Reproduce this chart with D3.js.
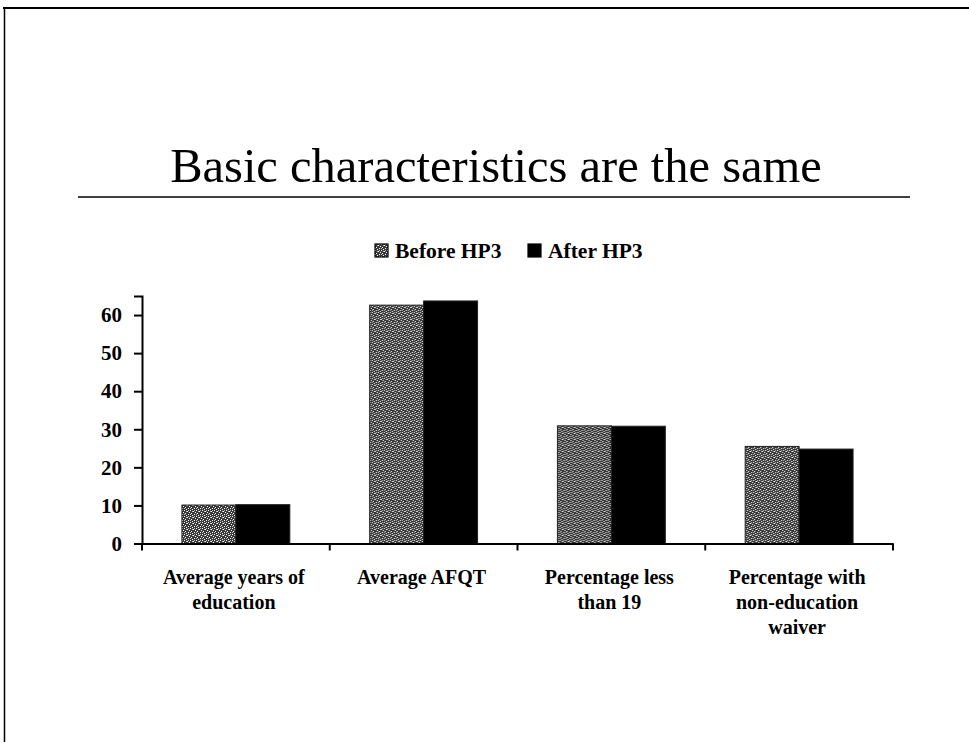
<!DOCTYPE html>
<html>
<head>
<meta charset="utf-8">
<script src="https://cdn.jsdelivr.net/npm/d3@7"></script>
<style>
  body { margin: 0; background: #fff; }
  text { font-family: "Liberation Serif", "Times New Roman", serif; fill: #000; }
</style>
</head>
<body>
<script>
(function(){

//chart data
var categories = [
  ["Average years of", "education"],
  ["Average AFQT"],
  ["Percentage less", "than 19"],
  ["Percentage with", "non-education", "waiver"]
];
var seriesNames = ["Before HP3", "After HP3"];
var beforeValues = [10.1, 62.6, 30.9, 25.5];
var afterValues = [10.2, 63.7, 30.8, 24.8];
var yTicks = [0, 10, 20, 30, 40, 50, 60];

window.onload = drawChart();

function drawChart(){
  var width = 969,
      height = 742;

  var svg = d3.select("body")
    .append("svg")
    .attr("width", width)
    .attr("height", height);

  //stippled fill for the "before" series
  var defs = svg.append("defs");
  var pat = defs.append("pattern")
    .attr("id", "stipple")
    .attr("patternUnits", "userSpaceOnUse")
    .attr("width", 6)
    .attr("height", 6);
  pat.append("rect").attr("width", 6).attr("height", 6).attr("fill", "#3a3a3a");
  [[0,0],[3,1],[1,3],[4,4],[5,2],[2,5]].forEach(function(p){
    pat.append("rect")
      .attr("x", p[0]).attr("y", p[1])
      .attr("width", 1).attr("height", 1)
      .attr("fill", "#fff");
  });
  [[2,1],[4,0],[0,4]].forEach(function(p){
    pat.append("rect")
      .attr("x", p[0]).attr("y", p[1])
      .attr("width", 1).attr("height", 1)
      .attr("fill", "#bbb");
  });

  //slide frame
  svg.append("line")
    .attr("x1", 3).attr("x2", width).attr("y1", 8).attr("y2", 8)
    .attr("stroke", "#000").attr("stroke-width", 2);
  svg.append("line")
    .attr("x1", 4.5).attr("x2", 4.5).attr("y1", 7).attr("y2", height)
    .attr("stroke", "#000").attr("stroke-width", 1.5);

  //title and rule
  svg.append("text")
    .attr("x", 496)
    .attr("y", 182)
    .attr("text-anchor", "middle")
    .style("font-size", "48.5px")
    .text("Basic characteristics are the same");

  svg.append("line")
    .attr("x1", 78).attr("x2", 910).attr("y1", 197).attr("y2", 197)
    .attr("stroke", "#000").attr("stroke-width", 1.5);

  //scales
  var x0 = d3.scaleBand()
    .domain(d3.range(categories.length))
    .range([142, 893]);

  var x1 = d3.scaleBand()
    .domain(seriesNames)
    .range([0, x0.bandwidth()])
    .paddingOuter(0.74);

  var y = d3.scaleLinear()
    .domain([0, 65])
    .range([543.5, 296]);

  var color = { "Before HP3": "url(#stipple)", "After HP3": "#000" };

  //bars
  var groups = svg.selectAll(".group")
    .data(categories)
    .enter()
    .append("g")
    .attr("class", "group")
    .attr("transform", function(d, i){ return "translate(" + x0(i) + ",0)"; });

  groups.selectAll("rect")
    .data(function(d, i){
      return [
        { key: seriesNames[0], value: beforeValues[i] },
        { key: seriesNames[1], value: afterValues[i] }
      ];
    })
    .enter()
    .append("rect")
    .attr("x", function(d){ return x1(d.key); })
    .attr("y", function(d){ return y(d.value); })
    .attr("width", x1.bandwidth())
    .attr("height", function(d){ return y(0) - y(d.value); })
    .attr("fill", function(d){ return color[d.key]; })
    .attr("stroke", "#222")
    .attr("stroke-width", 1);

  //y axis
  var yAxis = svg.append("g")
    .attr("transform", "translate(142,0)")
    .call(d3.axisLeft(y).tickValues(yTicks).tickSize(8).tickPadding(12).tickFormat(d3.format("d")));
  yAxis.select(".domain").attr("stroke-width", 2);
  yAxis.selectAll(".tick line").attr("stroke-width", 2);
  yAxis.selectAll(".tick text")
    .style("font-size", "21px")
    .style("font-weight", "bold")
    .style("font-family", "'Liberation Serif', serif");

  //x axis
  var xAxis = svg.append("g")
    .attr("transform", "translate(0," + y(0) + ")")
    .call(d3.axisBottom(x0).tickSize(0).tickFormat(""));
  xAxis.select(".domain").attr("stroke-width", 2);

  //category boundary ticks
  xAxis.selectAll(".sep")
    .data(d3.range(categories.length + 1))
    .enter()
    .append("line")
    .attr("class", "sep")
    .attr("x1", function(i){ return 142 + i * x0.step(); })
    .attr("x2", function(i){ return 142 + i * x0.step(); })
    .attr("y1", 0)
    .attr("y2", 7)
    .attr("stroke", "#000")
    .attr("stroke-width", 2);

  //category labels
  var labels = svg.selectAll(".catLabel")
    .data(categories)
    .enter()
    .append("text")
    .attr("class", "catLabel")
    .attr("text-anchor", "middle")
    .attr("y", 584)
    .style("font-size", "20px")
    .style("font-weight", "bold");

  labels.selectAll("tspan")
    .data(function(d, i){ return d.map(function(line){ return { line: line, i: i }; }); })
    .enter()
    .append("tspan")
    .attr("x", function(d){ return x0(d.i) + x0.bandwidth() / 2 - 2; })
    .attr("dy", function(d, j){ return j === 0 ? 0 : 25; })
    .text(function(d){ return d.line; });

  //legend
  var legendX = [375, 528];
  var legend = svg.selectAll(".legend")
    .data(seriesNames)
    .enter()
    .append("g")
    .attr("class", "legend")
    .attr("transform", function(d, i){ return "translate(" + legendX[i] + ",244)"; });

  legend.append("rect")
    .attr("width", 13)
    .attr("height", 13)
    .attr("fill", function(d){ return color[d]; })
    .attr("stroke", "#000")
    .attr("stroke-width", 1.2);

  legend.append("text")
    .attr("x", 20)
    .attr("y", 14)
    .style("font-size", "21.5px")
    .style("font-weight", "bold")
    .text(function(d){ return d; });
}

})();
</script>
</body>
</html>
